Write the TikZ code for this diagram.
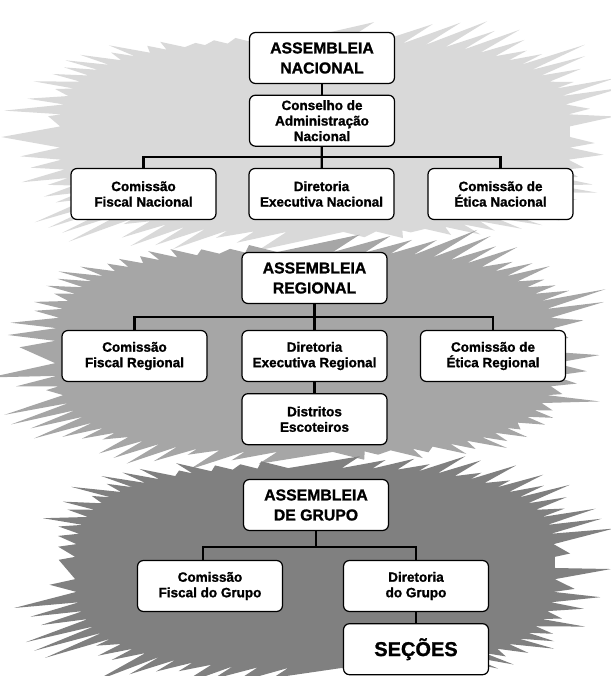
\documentclass[tikz,border=0pt]{standalone}
\usepackage{fontspec}
\setmainfont{Liberation Sans}[BoldFeatures={FakeBold=1.2}]
\usepackage{tikz}
\usetikzlibrary{positioning}
\tikzset{
  caixa/.style={draw, line width=1.2pt, rounded corners=6pt, fill=white,
    minimum width=145pt, minimum height=51pt, inner sep=0pt, align=center,
    font=\bfseries\fontsize{13.5}{15.5}\selectfont},
  topo/.style={caixa, font=\bfseries\fontsize{15.8}{20}\selectfont},
  liga/.style={line width=2.2pt},
}

\begin{document}
\begin{tikzpicture}[x=1pt,y=1pt]
\useasboundingbox (0,0) rectangle (610,-676);
% manchas de fundo
\pgfmathsetseed{21}
\foreach \cx/\cy/\ra/\rb/\cor in {315/-137/255/95/black!15,305/-352/250/100/black!35,315/-568/240/100/black!50}{
  \fill[\cor] (\cx+\ra,\cy) \foreach \t [evaluate=\t as \co using cos(\t),
      evaluate=\t as \si using sin(\t),
      evaluate=\t as \len using {(0.2+0.8*rnd)*65*(0.5+0.5*abs(cos(\t)))}]
      in {2.5,7.5,...,357.5}{
    -- ({\cx+\ra*\co*pow(abs(\co),-0.3)},{\cy+\rb*\si*pow(abs(\si),-0.3)})
    -- ++({\len*\co/abs(\co)},{0.2*\len*\co/abs(\co)+0.45*\len*\si})
  } -- cycle;
}

% nacional
\node[topo] (an) at (322,-58) {ASSEMBLEIA\\NACIONAL};
\node[caixa, below=10.5pt of an] (cons) {Conselho de\\Administração\\Nacional};
\node[caixa] (cfn) at (143.5,-194) {Comissão\\Fiscal Nacional};
\node[caixa] (den) at (321.5,-194) {Diretoria\\Executiva Nacional};
\node[caixa] (cen) at (500.5,-194) {Comissão de\\Ética Nacional};
\coordinate (busN) at (322,-157);
\draw[liga] (an) -- (cons);
\draw[liga] (cons) -- (den);
\draw[liga] (cfn.north) |- (busN) -| (cen.north);

% regional
\node[topo] (ar) at (314.5,-278) {ASSEMBLEIA\\REGIONAL};
\node[caixa] (cfr) at (134.5,-356) {Comissão\\Fiscal Regional};
\node[caixa] (der) at (314.5,-356) {Diretoria\\Executiva Regional};
\node[caixa] (cer) at (493,-356) {Comissão de\\Ética Regional};
\node[caixa, below=11pt of der] (dist) {Distritos\\Escoteiros};
\coordinate (busR) at (314.5,-317);
\draw[liga] (ar) -- (der);
\draw[liga] (cfr.north) |- (busR) -| (cer.north);
\draw[liga] (der) -- (dist);

% grupo
\node[topo] (ag) at (316,-505) {ASSEMBLEIA\\DE GRUPO};
\node[caixa] (cfg) at (210,-586) {Comissão\\Fiscal do Grupo};
\node[caixa] (dg) at (416,-586) {Diretoria\\do Grupo};
\node[caixa, below=11pt of dg, font=\bfseries\fontsize{20}{24}\selectfont] (sec) {SEÇÕES};
\coordinate (busG) at (316,-547);
\draw[liga] (ag) -- (busG);
\draw[liga] ([xshift=-7pt]cfg.north) |- (busG) -| (dg.north);
\draw[liga] (dg) -- (sec);
\end{tikzpicture}
\end{document}
